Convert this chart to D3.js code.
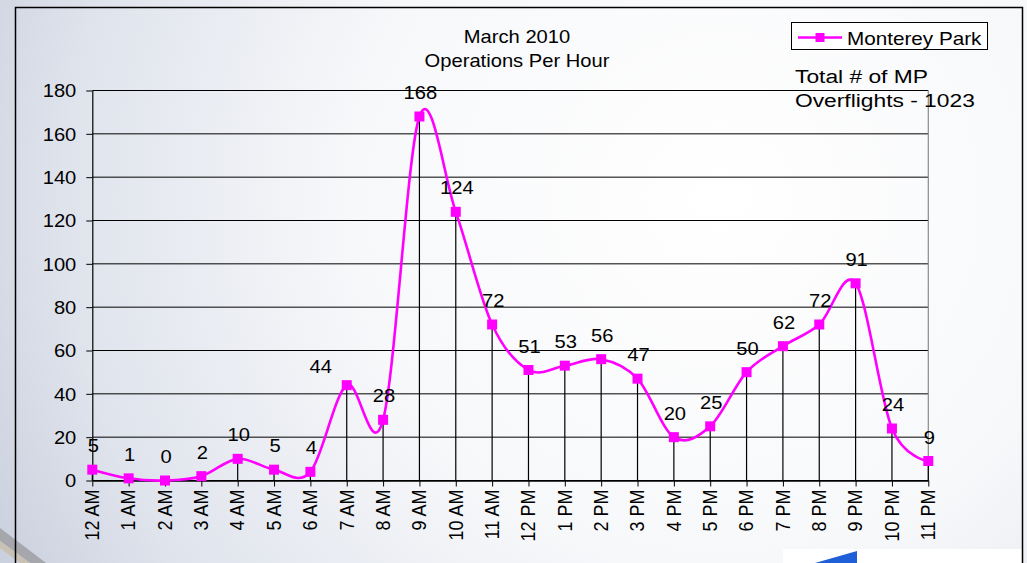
<!DOCTYPE html>
<html>
<head>
<meta charset="utf-8">
<script src="https://cdn.jsdelivr.net/npm/d3@7"></script>
<style>
  html, body { margin: 0; padding: 0; background: #fff; }
  svg { display: block; }
  text { font-family: "Liberation Sans", Arial, sans-serif; fill: #000; }
</style>
</head>
<body>
<svg id="chart" width="1027" height="563"></svg>
<script>
// Hourly operations, March 2010
const hours = ["12 AM","1 AM","2 AM","3 AM","4 AM","5 AM","6 AM","7 AM","8 AM","9 AM","10 AM","11 AM",
               "12 PM","1 PM","2 PM","3 PM","4 PM","5 PM","6 PM","7 PM","8 PM","9 PM","10 PM","11 PM"];
const operations = [5, 1, 0, 2, 10, 5, 4, 44, 28, 168, 124, 72, 51, 53, 56, 47, 20, 25, 50, 62, 72, 91, 24, 9];
const yTicks = [0, 20, 40, 60, 80, 100, 120, 140, 160, 180];
const seriesName = "Monterey Park";
const titleLines = ["March 2010", "Operations Per Hour"];
const noteLines = ["Total # of MP", "Overflights - 1023"];

const MAGENTA = "#ff00ff";
const SX = 1.12; // horizontal text stretch

const svg = d3.select("#chart");
const defs = svg.append("defs");

// slide background
const bg = defs.append("radialGradient").attr("id", "bg")
  .attr("gradientUnits", "userSpaceOnUse")
  .attr("cx", 720).attr("cy", 200).attr("r", 820);
bg.append("stop").attr("offset", "0").attr("stop-color", "#ffffff");
bg.append("stop").attr("offset", "0.45").attr("stop-color", "#f7f8fa");
bg.append("stop").attr("offset", "0.8").attr("stop-color", "#dfe3ec");
bg.append("stop").attr("offset", "1").attr("stop-color", "#c8cedc");
svg.append("rect").attr("width", 1027).attr("height", 563).attr("fill", "url(#bg)");

// corner decorations of the slide
svg.append("path").attr("d", "M0,528 L0,541 L30,563 L46,563 Z").attr("fill", "#a6a6ad");
svg.append("path").attr("d", "M0,541 L0,548 L20,563 L30,563 Z").attr("fill", "#c9c2b4");
svg.append("rect").attr("x", 783).attr("y", 549).attr("width", 240).attr("height", 14).attr("fill", "#ffffff");
svg.append("path").attr("d", "M815,563 L857,551 L857,563 Z").attr("fill", "#1f5fd8");

// chart frame
svg.append("rect").attr("x", 15.5).attr("y", 7.5).attr("width", 1007).attr("height", 600)
  .attr("fill", "none").attr("stroke", "#000").attr("stroke-width", 1.5);

// scales
const x = d3.scalePoint().domain(hours).range([92.3, 928.3]);
const y = d3.scaleLinear().domain([0, 180]).range([480.5, 90.5]);

const plot = svg.append("g");

// horizontal gridlines
plot.selectAll("line.grid").data(yTicks).join("line")
  .attr("class", "grid")
  .attr("x1", x.range()[0]).attr("x2", x.range()[1])
  .attr("y1", d => y(d)).attr("y2", d => y(d))
  .attr("stroke", "#000").attr("stroke-width", 1);

// plot area right border
plot.append("line")
  .attr("x1", x.range()[1]).attr("x2", x.range()[1])
  .attr("y1", y(180)).attr("y2", y(0))
  .attr("stroke", "#8a8a8a").attr("stroke-width", 1.2);

// drop lines
plot.selectAll("line.drop").data(operations).join("line")
  .attr("class", "drop")
  .attr("x1", (d, i) => x(hours[i])).attr("x2", (d, i) => x(hours[i]))
  .attr("y1", d => y(d)).attr("y2", y(0))
  .attr("stroke", "#000").attr("stroke-width", 1.2);

// y axis
const yAxis = plot.append("g")
  .attr("transform", `translate(${x.range()[0]},0)`)
  .call(d3.axisLeft(y).tickValues(yTicks).tickSize(6).tickSizeOuter(0).tickPadding(10));
yAxis.select(".domain").attr("stroke", "#000").attr("stroke-width", 1.2);
yAxis.selectAll(".tick line").attr("stroke", "#000");
yAxis.selectAll(".tick text")
  .attr("font-size", 18).attr("font-family", "Liberation Sans, Arial, sans-serif")
  .attr("x", -16 / SX).attr("dy", "0.36em")
  .attr("transform", `scale(${SX},1)`);

// x axis
const xAxis = plot.append("g")
  .attr("transform", `translate(0,${y(0)})`)
  .call(d3.axisBottom(x).tickSize(6).tickSizeOuter(0));
xAxis.select(".domain").attr("stroke", "#000").attr("stroke-width", 1.5);
xAxis.selectAll(".tick line").attr("stroke", "#000");
xAxis.selectAll(".tick text")
  .attr("font-size", 18).attr("font-family", "Liberation Sans, Arial, sans-serif")
  .attr("x", 0).attr("y", 0).attr("dy", "0.36em")
  .attr("text-anchor", "end")
  .attr("transform", `translate(-1,9) scale(${SX},1) rotate(-90)`);

// smoothed series line
const line = d3.line()
  .x((d, i) => x(hours[i]))
  .y(d => y(d))
  .curve(d3.curveCardinal.tension(0));
plot.append("path").datum(operations)
  .attr("d", line)
  .attr("fill", "none").attr("stroke", MAGENTA).attr("stroke-width", 2.6);

// markers
const ms = 10;
plot.selectAll("rect.marker").data(operations).join("rect")
  .attr("class", "marker")
  .attr("x", (d, i) => x(hours[i]) - ms / 2).attr("y", d => y(d) - ms / 2)
  .attr("width", ms).attr("height", ms)
  .attr("fill", MAGENTA);

// value labels (the 7 AM label sits up and to the left of its marker)
const labelNudge = { 7: [-27, 5] };
plot.selectAll("text.val").data(operations).join("text")
  .attr("class", "val")
  .attr("font-size", 18).attr("text-anchor", "middle")
  .attr("transform", (d, i) => {
    const n = labelNudge[i] || [0, 0];
    return `translate(${x(hours[i]) + 1 + n[0]},${y(d) - 17.5 + n[1]}) scale(${SX},1)`;
  })
  .text(d => d);

// title
svg.selectAll("text.title").data(titleLines).join("text")
  .attr("class", "title")
  .attr("font-size", 18).attr("text-anchor", "middle")
  .attr("transform", (d, i) => `translate(517,${43 + i * 24}) scale(${SX},1)`)
  .text(d => d);

// legend
const lg = svg.append("g");
lg.append("rect").attr("x", 791.5).attr("y", 22.5).attr("width", 196).attr("height", 27)
  .attr("fill", "#fff").attr("stroke", "#000").attr("stroke-width", 1);
lg.append("line").attr("x1", 798).attr("x2", 842).attr("y1", 37.5).attr("y2", 37.5)
  .attr("stroke", MAGENTA).attr("stroke-width", 2.6);
lg.append("rect").attr("x", 815.5).attr("y", 33).attr("width", 9).attr("height", 9).attr("fill", MAGENTA);
lg.append("text").attr("font-size", 18)
  .attr("transform", `translate(847,45) scale(1.15,1)`)
  .text(seriesName);

// total note
svg.selectAll("text.note").data(noteLines).join("text")
  .attr("class", "note")
  .attr("font-size", 19)
  .attr("transform", (d, i) => `translate(795,${83 + i * 24}) scale(1.2,1)`)
  .text(d => d);
</script>
</body>
</html>
